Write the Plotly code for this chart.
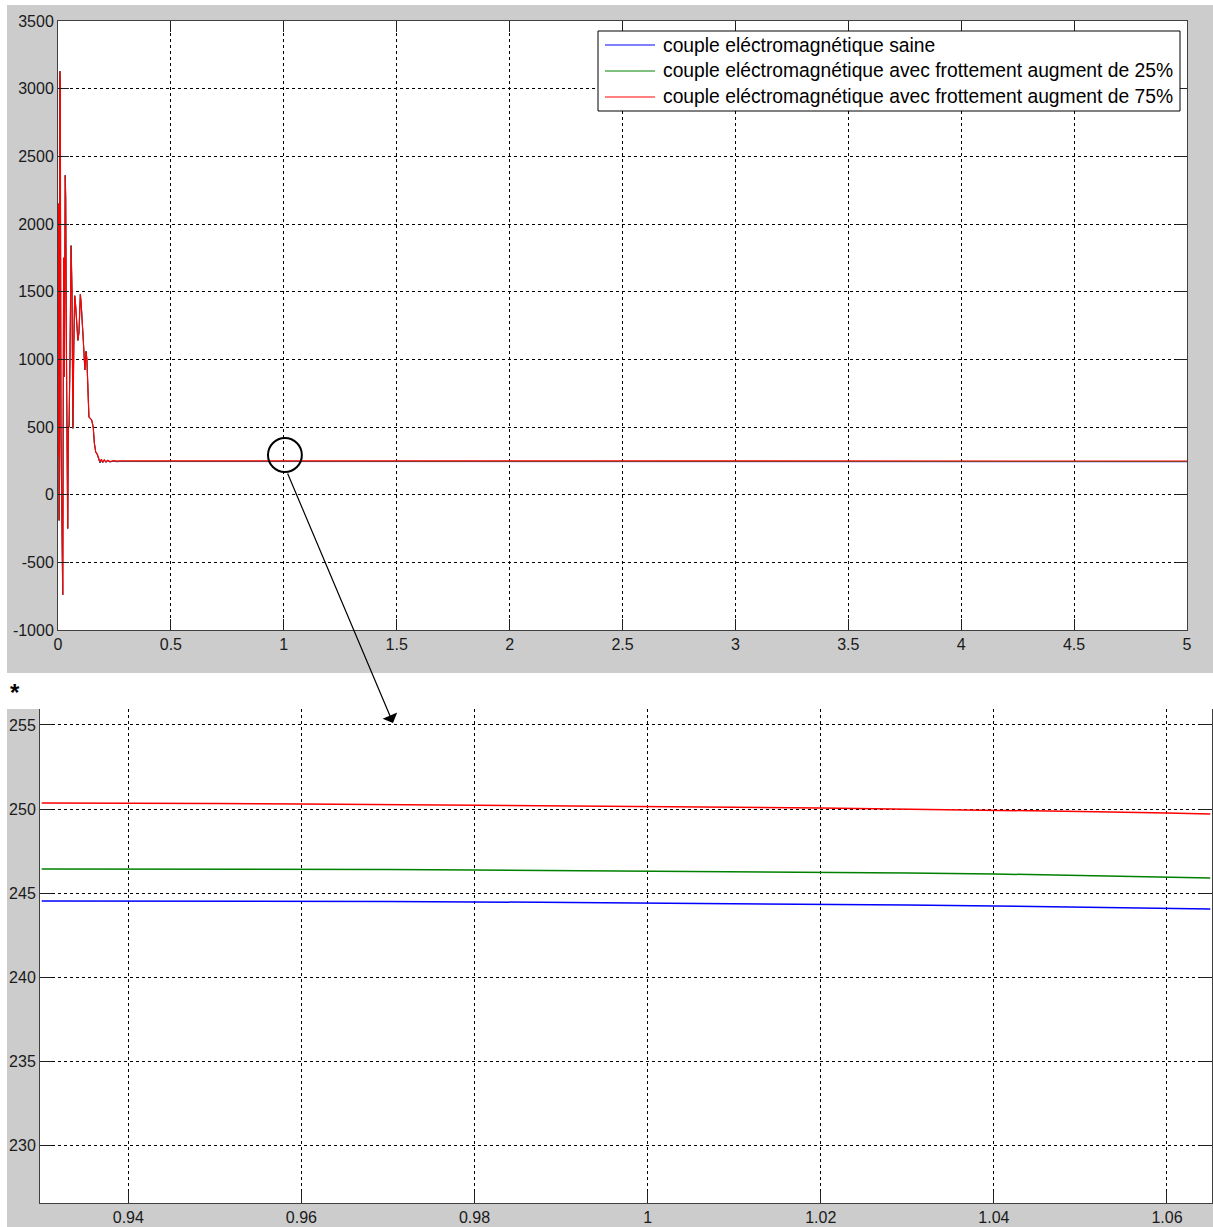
import plotly.graph_objects as go

# ---- series values ---------------------------------------------------------
# start-up transient shared by the three cases (s, N.m)
transient_t = [0.000, 0.002, 0.005, 0.008, 0.010, 0.013, 0.017, 0.021, 0.025,
               0.028, 0.032, 0.034, 0.038, 0.043, 0.046, 0.049, 0.053, 0.058,
               0.062, 0.066, 0.070, 0.074, 0.078, 0.083, 0.088, 0.093, 0.099,
               0.103, 0.108, 0.112, 0.119, 0.124, 0.128, 0.133, 0.137, 0.149,
               0.156, 0.161, 0.167]
transient_torque = [280, 2150, -190, 3130, 3050, 480, -520, -740, 1750,
                    870, 2360, 2200, 880, -250, 500, 500, 1000, 1840,
                    1500, 490, 1100, 1470, 1400, 1250, 1140, 1200, 1480,
                    1400, 1200, 1143, 921, 1060, 1000, 796, 574, 552,
                    500, 382, 315]

# settling part for each case
settle_t = [0.174, 0.180, 0.186, 0.192, 0.198, 0.205, 0.212, 0.220, 0.230,
            0.245, 0.260, 0.275]
settle_saine = [294, 260, 234, 256, 236, 253, 239, 249, 241, 247, 243, 244.6]
settle_25 = [296, 262, 236, 258, 237, 255, 240, 251, 243, 249, 245, 246.5]
settle_75 = [300, 270, 241, 262, 240, 258, 242, 254, 245, 252, 248, 250.4]

# steady state around t = 1 s
zoom_t = [0.93, 0.94, 0.95, 0.96, 0.97, 0.98, 0.99, 1.00, 1.01, 1.02, 1.03,
          1.04, 1.05, 1.06, 1.065]
steady_saine = [244.55, 244.55, 244.55, 244.55, 244.52, 244.49, 244.46, 244.43,
                244.40, 244.37, 244.31, 244.25, 244.19, 244.13, 244.07]
steady_25 = [246.45, 246.45, 246.45, 246.45, 246.42, 246.39, 246.36, 246.33,
             246.30, 246.27, 246.21, 246.15, 246.06, 245.97, 245.91]
steady_75 = [250.37, 250.37, 250.34, 250.31, 250.28, 250.25, 250.22, 250.16,
             250.12, 250.07, 250.01, 249.95, 249.86, 249.77, 249.71]

# end of the simulation
end_t = [5.0]
end_saine = [243.0]
end_25 = [244.8]
end_75 = [248.6]

names = ["couple eléctromagnétique saine",
         "couple eléctromagnétique avec frottement augment de 25%",
         "couple eléctromagnétique avec frottement augment de 75%"]
colors = ["#0000ff", "#008000", "#ff0000"]

# tick labels
top_xticks = [0, 0.5, 1, 1.5, 2, 2.5, 3, 3.5, 4, 4.5, 5]
top_xtext = ["0", "0.5", "1", "1.5", "2", "2.5", "3", "3.5", "4", "4.5", "5"]
top_yticks = [-1000, -500, 0, 500, 1000, 1500, 2000, 2500, 3000, 3500]
top_ytext = ["-1000", "-500", "0", "500", "1000", "1500", "2000", "2500",
             "3000", "3500"]
bot_xticks = [0.94, 0.96, 0.98, 1.00, 1.02, 1.04, 1.06]
bot_xtext = ["0.94", "0.96", "0.98", "1", "1.02", "1.04", "1.06"]
bot_yticks = [230, 235, 240, 245, 250, 255]
bot_ytext = ["230", "235", "240", "245", "250", "255"]

# ---- figure geometry (pixels) ---------------------------------------------
W, H = 1213, 1227
FONT = "Liberation Sans, Arial, sans-serif"
GRAY = "#cccccc"


def px(x):
    return x / W


def py(y):
    return 1 - y / H


fig = go.Figure()

steady_sets = [steady_saine, steady_25, steady_75]
settle_sets = [settle_saine, settle_25, settle_75]
end_sets = [end_saine, end_25, end_75]
top_widths = [0.8, 0.8, 1.2]

for name, col, lw, settle, steady, end in zip(names, colors, top_widths,
                                              settle_sets, steady_sets,
                                              end_sets):
    fig.add_trace(go.Scatter(
        x=transient_t + settle_t + zoom_t + end_t,
        y=transient_torque + settle + steady + end,
        mode="lines", name=name, showlegend=False,
        line=dict(color=col, width=lw), xaxis="x", yaxis="y"))

for name, col, steady in zip(names, colors, steady_sets):
    fig.add_trace(go.Scatter(
        x=zoom_t, y=steady, mode="lines", name=name, showlegend=False,
        line=dict(color=col, width=1.5), xaxis="x2", yaxis="y2"))

axis_common = dict(
    showline=True, linecolor="#404040", linewidth=1, automargin=False,
    ticks="inside", tickcolor="#202020", tickwidth=1,
    showgrid=True, gridcolor="#000000", gridwidth=1, griddash="3px,3px",
    zeroline=False, tickfont=dict(family=FONT, size=16, color="#1a1a1a"),
)

top_dom_x = [px(58), px(1187)]
top_dom_y = [py(630), py(21)]
bot_dom_x = [px(40), px(1212)]
bot_dom_y = [py(1203), py(709)]

fig.update_layout(
    width=W, height=H, autosize=False,
    margin=dict(l=0, r=0, t=0, b=0, pad=0, autoexpand=False),
    paper_bgcolor="white", plot_bgcolor="white",
    showlegend=False,
    xaxis=dict(domain=top_dom_x, range=[0, 5], tickvals=top_xticks,
               ticktext=top_xtext, ticklen=11, mirror="ticks",
               anchor="y", **axis_common),
    yaxis=dict(domain=top_dom_y, range=[-1000, 3500], tickvals=top_yticks,
               ticktext=top_ytext, ticklen=11, mirror="ticks", anchor="x",
               **axis_common),
    xaxis2=dict(domain=bot_dom_x, range=[0.9298, 1.0652], tickvals=bot_xticks,
                ticktext=bot_xtext, ticklen=12, mirror=False,
                anchor="y2", **axis_common),
    yaxis2=dict(domain=bot_dom_y, range=[226.6, 255.95], tickvals=bot_yticks,
                ticktext=bot_ytext, ticklen=12, mirror="ticks", anchor="x2",
                **axis_common),
)

# figure panels: gray frame behind each axes, white plotting area on top
shapes = [
    dict(type="rect", xref="paper", yref="paper", x0=px(7), x1=1,
         y0=py(673), y1=py(5), fillcolor=GRAY, line=dict(width=0),
         layer="below"),
    dict(type="rect", xref="paper", yref="paper", x0=top_dom_x[0],
         x1=top_dom_x[1], y0=top_dom_y[0], y1=top_dom_y[1],
         fillcolor="white", line=dict(width=0), layer="below"),
    dict(type="rect", xref="paper", yref="paper", x0=px(7), x1=1,
         y0=0, y1=py(709), fillcolor=GRAY, line=dict(width=0),
         layer="below"),
    dict(type="rect", xref="paper", yref="paper", x0=bot_dom_x[0],
         x1=bot_dom_x[1], y0=bot_dom_y[0], y1=bot_dom_y[1],
         fillcolor="white", line=dict(width=0), layer="below"),
    # circle marking the zoomed region at t = 1 s
    dict(type="circle", xref="x", yref="y", x0=0.93, x1=1.08, y0=167, y1=419,
         line=dict(color="black", width=2), layer="above"),
]

# legend box of the upper axes
LEG_L, LEG_R, LEG_T, LEG_B = 598, 1180, 31, 111
shapes.append(dict(type="rect", xref="paper", yref="paper",
                   x0=px(LEG_L), x1=px(LEG_R), y0=py(LEG_B), y1=py(LEG_T),
                   fillcolor="white", line=dict(color="black", width=1),
                   layer="above"))
row_y = [45, 71, 97]
for name, col, ry in zip(names, colors, row_y):
    shapes.append(dict(type="line", xref="paper", yref="paper",
                       x0=px(605), x1=px(655), y0=py(ry), y1=py(ry),
                       line=dict(color=col, width=1), layer="above"))
    fig.add_annotation(xref="paper", yref="paper", x=px(661), y=py(ry),
                       xanchor="left", yanchor="middle", text=name,
                       showarrow=False,
                       font=dict(family=FONT, size=19.3, color="black"))
fig.update_layout(shapes=shapes)

fig.add_annotation(
    xref="paper", yref="paper", x=px(393), y=py(723), text="",
    showarrow=True, ax=-106, ay=-251, arrowhead=1, arrowsize=2.2,
    arrowwidth=1.2, arrowcolor="black", standoff=0, startstandoff=0)

fig.add_annotation(
    xref="paper", yref="paper", x=px(15), y=py(692), text="<b>*</b>",
    xanchor="center", yanchor="middle", showarrow=False,
    font=dict(family=FONT, size=24, color="black"))

fig.write_html("out.html")
